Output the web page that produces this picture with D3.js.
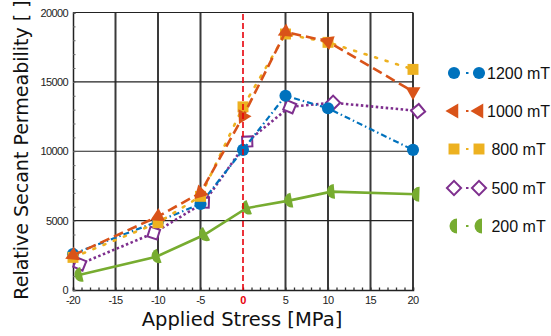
<!DOCTYPE html>
<html>
<head>
<meta charset="utf-8">
<script src="https://cdn.jsdelivr.net/npm/d3@7"></script>
<style>
  body { margin: 0; background: #fff; }
  svg { display: block; }
  text { white-space: pre; }
</style>
</head>
<body>
<figure id="chart" style="margin:0"></figure>
<script>
// values
const stress = [-20, -10, -5, 0, 5, 10, 20];
const perm1200 = [2600, 4950, 6200, 10100, 14000, 13100, 10100];
const perm1000 = [2500, 5300, 7000, 12500, 18600, 17900, 14300];
const perm800 = [2350, 4850, 6750, 13200, 18450, 17850, 15900];
const stress500 = [-19.2, -10.5, -4.6, 0.5, 5.5, 10.6, 20.6];
const perm500 = [1870, 4100, 6300, 10700, 13200, 13500, 12900];
const stress200 = [-19.3, -10.2, -4.6, 0.4, 5.4, 10.4, 20.4];
const perm200 = [1080, 2400, 3960, 5900, 6440, 7090, 6900];
const legendLabels = ["1200 mT", "1000 mT", " 800 mT", " 500 mT", " 200 mT"];
const xTicks = [-20, -15, -10, -5, 0, 5, 10, 15, 20];
const yTicks = [0, 5000, 10000, 15000, 20000];

const width = 551, height = 336;

const svg = d3.select("#chart").append("svg")
  .attr("width", width).attr("height", height);

const x = d3.scaleLinear().domain([-20, 20]).range([73, 413]);
const y = d3.scaleLinear().domain([0, 20000]).range([290, 12.5]);

// grid
const grid = svg.append("g");
grid.selectAll("line.v").data(xTicks.filter(d => d > -20 && d !== 0)).enter()
  .append("line")
  .attr("x1", d => x(d)).attr("x2", d => x(d))
  .attr("y1", y(0)).attr("y2", y(20000))
  .attr("stroke", "#3a3a3a").attr("stroke-width", 2);
grid.selectAll("line.h").data(yTicks.filter(d => d > 0)).enter()
  .append("line")
  .attr("x1", x(-20)).attr("x2", x(20))
  .attr("y1", d => y(d)).attr("y2", d => y(d))
  .attr("stroke", "#222").attr("stroke-width", 1.2);

// axes
const xAxis = svg.append("g")
  .attr("transform", "translate(0," + y(0) + ")")
  .call(d3.axisBottom(x).tickValues(d3.range(-20, 21, 1)).tickSize(-2.5).tickFormat(""));
xAxis.select(".domain").attr("stroke", "#222").attr("stroke-width", 1.5);
xAxis.selectAll(".tick line").attr("stroke", "#333").attr("stroke-width", 1.3);

const yAxis = svg.append("g")
  .attr("transform", "translate(" + x(-20) + ",0)")
  .call(d3.axisLeft(y).tickValues(d3.range(0, 20001, 1000)).tickSize(-2.5).tickFormat(""));
yAxis.select(".domain").attr("stroke", "#222").attr("stroke-width", 1.5);
yAxis.selectAll(".tick line").attr("stroke", "#666").attr("stroke-width", 1);

// tick labels
svg.append("g").selectAll("text").data(xTicks).enter().append("text")
  .attr("x", d => x(d)).attr("y", 304)
  .attr("text-anchor", "middle")
  .style("font-family", "Liberation Sans, Arial, sans-serif")
  .style("font-size", "11px").style("letter-spacing", "-0.6px")
  .style("fill", d => d === 0 ? "#e8000b" : "#222")
  .style("font-weight", d => d === 0 ? "bold" : "normal")
  .text(d => d);
svg.append("g").selectAll("text").data(yTicks).enter().append("text")
  .attr("x", 68).attr("y", d => y(d) + 4)
  .attr("text-anchor", "end")
  .style("font-family", "Liberation Sans, Arial, sans-serif")
  .style("font-size", "11px").style("letter-spacing", "-0.6px")
  .style("fill", "#222")
  .text(d => d);

// axis titles
svg.append("text")
  .attr("x", 242).attr("y", 326)
  .attr("text-anchor", "middle")
  .style("font-family", "DejaVu Sans, sans-serif").style("font-size", "19.5px")
  .style("fill", "#111")
  .text("Applied Stress [MPa]");
svg.append("text")
  .attr("transform", "translate(28,150) rotate(-90)")
  .attr("text-anchor", "middle")
  .style("font-family", "DejaVu Sans, sans-serif").style("font-size", "19px")
  .style("fill", "#111")
  .text("Relative Secant Permeability [ ]");

// marker shapes
const halfDisk = r => "M3," + (-r) + " A" + r + "," + r + " 0 0 0 3," + r + " Z";
const series = {
  s500: { xs: stress500, ys: perm500, color: "#7E2F8E", dash: "2.5,2.5", w: 2.6,
    shape: (rot) => ({ d: d3.symbol(d3.symbolSquare, 100)(), rot: rot + 45, fill: "#fff", stroke: true }) },
  s1200: { xs: stress, ys: perm1200, color: "#0072BD", dash: "6,3,1.5,3", w: 2.2,
    shape: (rot) => ({ d: d3.symbol(d3.symbolCircle, 115)(), rot: 0, fill: "#0072BD" }) },
  s800: { xs: stress, ys: perm800, color: "#EDB120", dash: "2,9", w: 2.6,
    shape: (rot) => ({ d: d3.symbol(d3.symbolSquare, 120)(), rot: 0, fill: "#EDB120" }) },
  s1000: { xs: stress, ys: perm1000, color: "#D95319", dash: "10,5", w: 2.6,
    shape: (rot) => ({ d: d3.symbol(d3.symbolTriangle, 95)(), rot: rot - 90, fill: "#D95319" }) },
  s200: { xs: stress200, ys: perm200, color: "#77AC30", dash: null, w: 2.6,
    shape: (rot) => ({ d: halfDisk(7.5), rot: rot, fill: "#77AC30" }) }
};

const line = d3.line().x(d => x(d[0])).y(d => y(d[1]));

["s500", "s1200", "s800", "s1000", "s200"].forEach(key => {
  const s = series[key];
  const pts = s.xs.map((v, i) => [v, s.ys[i]]);
  const px = pts.map(p => [x(p[0]), y(p[1])]);
  svg.append("path")
    .attr("d", line(pts))
    .attr("fill", "none")
    .attr("stroke", s.color)
    .attr("stroke-width", s.w)
    .attr("stroke-dasharray", s.dash)
    .attr("stroke-linecap", s.dash === "2,9" ? "round" : "butt");
  // marker rotation follows the local direction of the line
  const angles = px.map((p, i) => {
    const a = i > 0 ? Math.atan2(p[1] - px[i - 1][1], p[0] - px[i - 1][0]) : null;
    const b = i < px.length - 1 ? Math.atan2(px[i + 1][1] - p[1], px[i + 1][0] - p[0]) : null;
    const r = a === null ? b : b === null ? a : (a + b) / 2;
    return r * 180 / Math.PI;
  });
  svg.append("g").selectAll("path").data(px).enter().append("path")
    .each(function (p, i) {
      const m = s.shape(angles[i]);
      d3.select(this)
        .attr("d", m.d)
        .attr("transform", "translate(" + p[0] + "," + p[1] + ") rotate(" + m.rot + ")")
        .attr("fill", m.fill)
        .attr("stroke", m.stroke ? s.color : "none")
        .attr("stroke-width", 2);
    });
});

// zero-stress marker line
svg.append("line")
  .attr("x1", x(0)).attr("x2", x(0))
  .attr("y1", y(0)).attr("y2", y(20000))
  .attr("stroke", "#e8000b").attr("stroke-width", 1.6)
  .attr("stroke-dasharray", "6,3");

// legend
const legendKeys = ["s1200", "s1000", "s800", "s500", "s200"];
const legendY = [73, 111, 149, 188, 226];
legendKeys.forEach((key, k) => {
  const s = series[key];
  const g = svg.append("g").attr("transform", "translate(0," + legendY[k] + ")");
  g.append("line").attr("x1", 466).attr("x2", 468.5)
    .attr("stroke", s.color).attr("stroke-width", 2);
  [454, 479].forEach(mx => {
    const m = s.shape(0);
    g.append("path").attr("d", m.d)
      .attr("transform", "translate(" + mx + ",0) rotate(" + m.rot + ")")
      .attr("fill", m.fill)
      .attr("stroke", m.stroke ? s.color : "none").attr("stroke-width", 2);
  });
  g.append("text").attr("x", 487).attr("y", 5.5)
    .style("font-family", "Liberation Sans, Arial, sans-serif")
    .style("font-size", "16px").style("fill", "#111")
    .text(legendLabels[k]);
});
</script>
</body>
</html>
